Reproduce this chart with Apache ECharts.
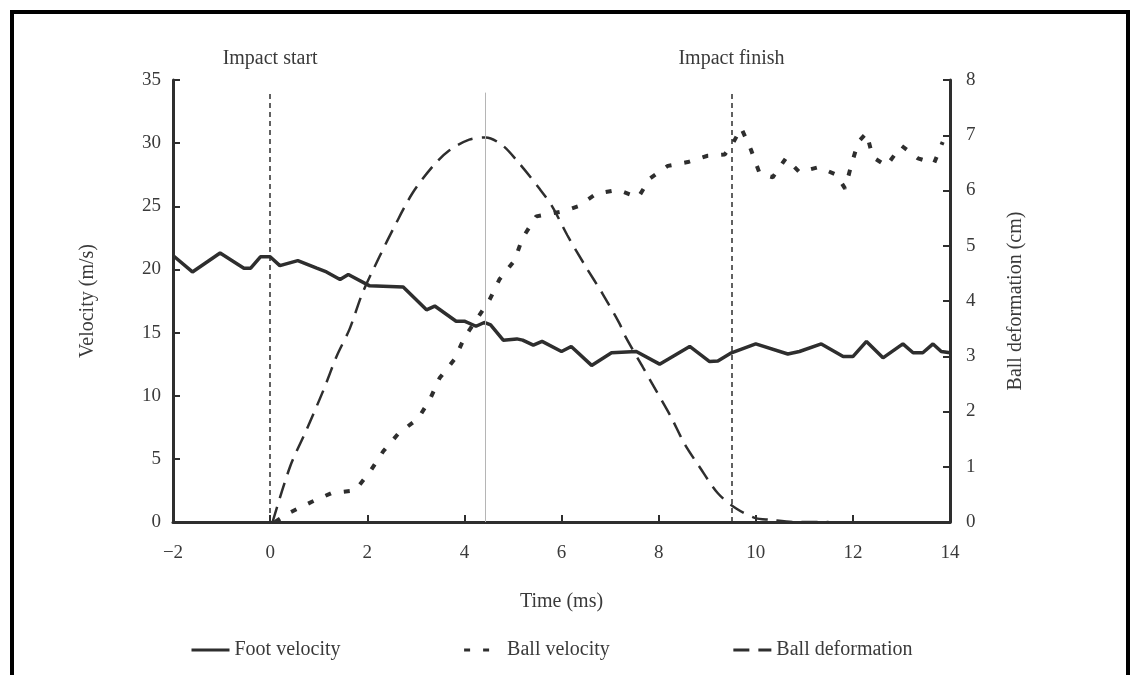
<!DOCTYPE html>
<html>
<head>
<meta charset="utf-8">
<script src="https://cdn.jsdelivr.net/npm/echarts@6/dist/echarts.min.js"></script>
<style>
html,body{margin:0;padding:0;background:#fff;}
#main{width:1131px;height:675px;}
</style>
</head>
<body>
<div id="main"></div>
<script>
// ---- data ----
const footTime = [-2, -1.6, -1.03, -0.54, -0.4, -0.2, 0, 0.2, 0.57, 0.96, 1.16, 1.44, 1.61, 2.05, 2.74, 3.22, 3.39, 3.83, 4.0, 4.24, 4.41, 4.54, 4.8, 5.08, 5.2, 5.42, 5.6, 6.0, 6.2, 6.62, 7.03, 7.54, 8.02, 8.64, 9.05, 9.22, 9.5, 10.0, 10.66, 10.9, 11.35, 11.8, 12.0, 12.28, 12.62, 13.03, 13.24, 13.44, 13.65, 13.82, 14.0];
const footVel  = [21.1, 19.8, 21.3, 20.1, 20.1, 21.0, 21.0, 20.3, 20.7, 20.1, 19.8, 19.2, 19.6, 18.7, 18.6, 16.8, 17.1, 15.9, 15.9, 15.5, 15.8, 15.6, 14.4, 14.5, 14.4, 14.0, 14.3, 13.5, 13.9, 12.4, 13.4, 13.5, 12.5, 13.9, 12.7, 12.75, 13.4, 14.1, 13.3, 13.5, 14.1, 13.1, 13.1, 14.3, 13.0, 14.1, 13.4, 13.4, 14.1, 13.5, 13.4];

const ballTime = [0.1, 0.38, 0.86, 1.27, 1.75, 2.06, 2.33, 2.64, 3.05, 3.29, 3.49, 3.8, 4.0, 4.52, 4.72, 5.03, 5.2, 5.48, 6.03, 6.34, 6.72, 7.16, 7.58, 7.82, 8.19, 8.6, 9.01, 9.36, 9.53, 9.7, 9.9, 10.08, 10.35, 10.62, 10.9, 11.3, 11.66, 11.84, 11.97, 12.11, 12.28, 12.41, 12.69, 13.0, 13.34, 13.67, 13.85];
const ballVel  = [0, 0.7, 1.6, 2.3, 2.5, 4.0, 5.6, 7.0, 8.2, 9.7, 11.4, 12.9, 14.6, 17.6, 19.2, 20.7, 22.5, 24.2, 24.6, 25.0, 26.0, 26.3, 25.7, 27.2, 28.2, 28.5, 29.0, 29.1, 30.0, 31.2, 29.5, 27.6, 27.3, 28.8, 27.7, 28.1, 27.5, 26.4, 28.3, 30.1, 30.8, 28.9, 28.2, 29.8, 28.8, 28.4, 30.1];

const defTime = [0.05, 0.41, 0.75, 1.1, 1.37, 1.64, 1.9, 2.25, 2.59, 2.93, 3.34, 3.68, 4.1, 4.44, 4.78, 5.13, 5.54, 5.81, 6.12, 6.5, 6.84, 7.19, 7.32, 7.67, 7.94, 8.25, 8.53, 8.84, 9.22, 9.59, 10.0, 10.3, 10.76, 11.5];
const defVal  = [0, 1.0, 1.67, 2.39, 3.0, 3.5, 4.14, 4.8, 5.4, 5.95, 6.43, 6.72, 6.92, 6.96, 6.82, 6.49, 6.04, 5.71, 5.19, 4.62, 4.14, 3.6, 3.35, 2.81, 2.39, 1.91, 1.42, 1.0, 0.52, 0.25, 0.07, 0.04, 0, 0];

const seriesNames = ['Foot velocity', 'Ball velocity', 'Ball deformation'];
const markTimes = [0, 4.44, 9.5];
const markTexts = ['Impact start', '', 'Impact finish'];
const markTop = 34;

const zip = (a, b) => a.map((t, i) => [t, b[i]]);

const FONT = 'Liberation Serif';
const TXT = '#3a3a3a';
const INK = '#2e2e2e';

const chart = echarts.init(document.getElementById('main'), null, {renderer: 'canvas'});

const markData = markTimes.map((t, i) => {
  const gray = markTexts[i] === '';
  return [
    {coord: [t, 0], lineStyle: gray ? {color: '#b5b5b5', type: 'solid', width: 1} : {color: INK, type: [5, 4], width: 1.5}},
    {coord: [t, markTop], label: {show: !gray, formatter: markTexts[i]}}
  ];
});

chart.setOption({
  animation: false,
  backgroundColor: '#fff',
  textStyle: {fontFamily: FONT, color: TXT},
  graphic: [{
    type: 'rect', z: 100, silent: true,
    shape: {x: 12, y: 12, width: 1116, height: 720},
    style: {fill: 'none', stroke: '#000', lineWidth: 4}
  }],
  grid: {left: 173, right: 181, top: 80, bottom: 153},
  legend: {
    bottom: 10,
    left: 185,
    itemGap: 122,
    itemWidth: 38,
    itemHeight: 10,
    itemStyle: {opacity: 0},
    lineStyle: {width: 3},
    textStyle: {fontFamily: FONT, fontSize: 20, color: TXT},
    data: seriesNames
  },
  xAxis: {
    type: 'value', min: -2, max: 14, interval: 2,
    name: 'Time (ms)', nameLocation: 'middle', nameGap: 70,
    nameTextStyle: {fontFamily: FONT, fontSize: 20, color: TXT},
    axisLine: {onZero: false, lineStyle: {color: INK, width: 3}},
    axisTick: {inside: true, length: 7, lineStyle: {color: INK, width: 2}},
    axisLabel: {margin: 22, fontFamily: FONT, fontSize: 19, color: TXT,
      formatter: v => String(v).replace('-', '\u2212')},
    splitLine: {show: false}
  },
  yAxis: [{
    type: 'value', min: 0, max: 35, interval: 5, position: 'left',
    name: 'Velocity (m/s)', nameLocation: 'middle', nameGap: 75, nameRotate: 90,
    nameTextStyle: {fontFamily: FONT, fontSize: 20, color: TXT},
    axisLine: {show: true, onZero: false, lineStyle: {color: INK, width: 3}},
    axisTick: {show: true, inside: true, length: 7, lineStyle: {color: INK, width: 2}},
    axisLabel: {margin: 12, fontFamily: FONT, fontSize: 19, color: TXT},
    splitLine: {show: false}
  }, {
    type: 'value', min: 0, max: 8, interval: 1, position: 'right',
    name: 'Ball deformation (cm)', nameLocation: 'middle', nameGap: 56, nameRotate: 90,
    nameTextStyle: {fontFamily: FONT, fontSize: 20, color: TXT},
    axisLine: {show: true, onZero: false, lineStyle: {color: INK, width: 3}},
    axisTick: {show: true, inside: true, length: 7, lineStyle: {color: INK, width: 2}},
    axisLabel: {margin: 16, fontFamily: FONT, fontSize: 19, color: TXT},
    splitLine: {show: false}
  }],
  series: [{
    name: seriesNames[0], type: 'line', yAxisIndex: 0,
    data: zip(footTime, footVel), symbol: 'none',
    lineStyle: {color: INK, width: 3.5, type: 'solid'},
    itemStyle: {color: INK},
    markLine: {
      silent: true, symbol: ['none', 'none'],
      label: {position: 'end', distance: 24, fontFamily: FONT, fontSize: 20, color: TXT},
      data: markData
    }
  }, {
    name: seriesNames[1], type: 'line', yAxisIndex: 0,
    data: zip(ballTime, ballVel), symbol: 'none',
    lineStyle: {color: INK, width: 4, type: [6, 13]},
    itemStyle: {color: INK}
  }, {
    name: seriesNames[2], type: 'line', yAxisIndex: 1, smooth: 0.3,
    data: zip(defTime, defVal), symbol: 'none',
    lineStyle: {color: INK, width: 2.5, type: [16, 9]},
    itemStyle: {color: INK}
  }]
});
</script>
</body>
</html>
